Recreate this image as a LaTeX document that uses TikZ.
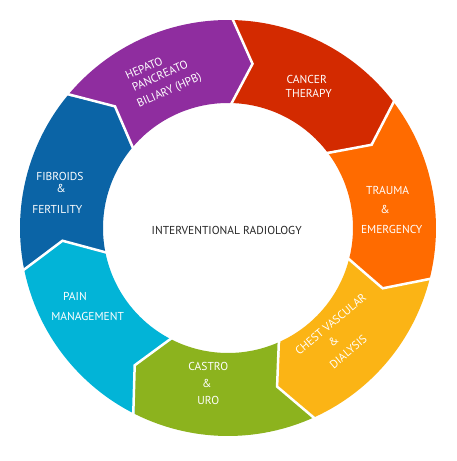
\documentclass[tikz,border=0pt]{standalone}
\usepackage{fontspec}
\setmainfont{PT Sans}
\definecolor{cpur}{HTML}{8F2D9F}
\definecolor{cred}{HTML}{D32A00}
\definecolor{cora}{HTML}{FF6B00}
\definecolor{cyel}{HTML}{FBB415}
\definecolor{cgrn}{HTML}{8CB31E}
\definecolor{ccya}{HTML}{02B4D7}
\definecolor{cblu}{HTML}{0B64A6}
\begin{document}
\begin{tikzpicture}[x=1pt,y=1pt,
  lbl/.style={text=white,font=\fontsize{11.5}{12}\selectfont,inner sep=0pt,text height=8pt,text depth=0pt},
  sepline/.style={draw=white,line width=2.5pt,line join=miter}]
\useasboundingbox[fill=white] (-228,-233) rectangle (229,228);
\foreach \a/\c in {140.4/cpur,89/cred,37.6/cora,-13.8/cyel,-65.3/cgrn,-116.7/ccya,-168.1/cblu}{
  \pgfmathsetmacro\b{\a-51.43}
  \pgfmathsetmacro\t{\b-7.5}
  \pgfmathsetmacro\s{\a-7.5}
  \fill[\c] (\a:208pt) arc[start angle=\a,end angle=\b,radius=208pt] -- (\t:166pt) -- (\b:125pt) arc[start angle=\b,end angle=\a,radius=125pt] -- (\s:166pt) -- cycle;
}
\foreach \a in {140.4,89,37.6,-13.8,-65.3,-116.7,-168.1}{
  \pgfmathsetmacro\s{\a-7.5}
  \draw[sepline] (\a:211pt) -- (\s:166pt) -- (\a:122pt);
}
% labels
\node[lbl,rotate=24] (hpb1) at (-84,159.7) {HEPATO};
\node[lbl,rotate=24] (hpb2) at (-68,152.3) {PANCREATO};
\node[lbl,rotate=24] (hpb3) at (-59,138) {BILIARY (HPB)};
\node[lbl] (can1) at (78.7,148) {CANCER};
\node[lbl] (can2) at (80.7,134.7) {THERAPY};
\node[lbl] (tra1) at (159.7,37.3) {TRAUMA};
\node[lbl] (tra2) at (157,18.7) {\&};
\node[lbl] (tra3) at (163.7,-1.3) {EMERGENCY};
\node[lbl,rotate=40] (che1) at (102.7,-96) {CHEST VASCULAR};
\node[lbl,rotate=40] (che2) at (105.3,-113.7) {\&};
\node[lbl,rotate=40] (che3) at (120.3,-123.7) {DIALYSIS};
\node[lbl] (cas1) at (-19.7,-138.7) {CASTRO};
\node[lbl] (cas2) at (-21.3,-155.3) {\&};
\node[lbl] (cas3) at (-19.7,-172) {URO};
\node[lbl] (pai1) at (-153,-68) {PAIN};
\node[lbl] (pai2) at (-140.3,-88.7) {MANAGEMENT};
\node[lbl] (fib1) at (-168,51.3) {FIBROIDS};
\node[lbl] (fib2) at (-167,39.7) {\&};
\node[lbl] (fib3) at (-170.7,18.7) {FERTILITY};
\node[lbl,text=black!85] (ir) at (-1.3,-2) {INTERVENTIONAL RADIOLOGY};
\end{tikzpicture}
\end{document}
